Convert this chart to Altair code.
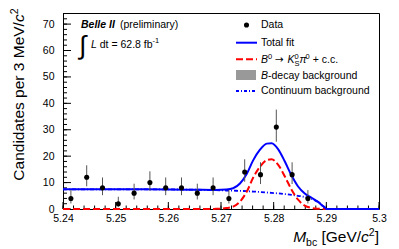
import altair as alt
import pandas as pd

# ---------------- data ----------------
bin_centers = [5.2415, 5.2445, 5.2475, 5.2505, 5.2535, 5.2565, 5.2595, 5.2625,
               5.2655, 5.2685, 5.2715, 5.2745, 5.2775, 5.2805, 5.2835, 5.2865]
counts = [4, 12, 8, 2, 6, 10, 8, 8, 6, 8, 4, 14, 13, 31, 13, 4]
err_low = [2.09, 8.59, 5.23, 0.71, 3.62, 6.89, 5.23, 5.23, 3.62, 5.23, 2.09,
           10.32, 9.45, 25.47, 9.45, 2.09]
err_high = [7.16, 16.55, 11.94, 4.64, 9.58, 14.26, 11.94, 11.94, 9.58, 11.94, 7.16,
            18.82, 17.69, 37.63, 17.69, 7.16]

curve_m = [5.2400, 5.2500, 5.2600, 5.2650, 5.2690, 5.2710, 5.2723, 5.2736, 5.2749,
           5.2761, 5.2774, 5.2787, 5.2796, 5.2809, 5.2821, 5.2834, 5.2846, 5.2859,
           5.2872, 5.2885, 5.2893, 5.2898, 5.2900, 5.3000]
signal_curve = [0, 0, 0, 0, 0.05, 0.35, 0.9, 2.8, 6.6, 11.8, 16.0, 18.5, 18.8, 16.6,
                12.4, 7.3, 3.6, 1.3, 0.4, 0.1, 0, 0, 0, 0]
continuum_curve = [7.45, 7.45, 7.4, 7.3, 7.15, 7.0, 6.95, 6.85, 6.75, 6.6, 6.45, 6.25,
                   6.1, 5.9, 5.65, 5.35, 5.0, 4.55, 3.85, 2.5, 1.2, 0.4, 0, 0]
total_curve = [7.45, 7.45, 7.4, 7.3, 7.2, 7.35, 7.85, 9.65, 13.35, 18.4, 22.45, 24.75,
               24.9, 22.5, 18.05, 12.65, 8.6, 5.85, 4.25, 2.6, 1.2, 0.4, 0, 0]

x_major = [5.24, 5.25, 5.26, 5.27, 5.28, 5.29, 5.30]
x_minor = [round(5.24 + 0.002 * i, 3) for i in range(31)]
y_major = [0, 10, 20, 30, 40, 50, 60, 70]
y_minor = list(range(0, 75, 2))

# ---------------- layout ----------------
W, H = 316, 196
F = "Liberation Sans"
TS = 10.5   # tick label size
LS = 10.5   # legend / annotation size
TT = 15.5   # axis title size

AW = {' ': 278, '(': 333, ')': 333, '-': 333, '.': 278, '/': 278, '=': 584, '+': 584,
      '[': 278, ']': 278, 'a': 556, 'b': 556, 'c': 500, 'd': 556, 'e': 556, 'f': 278,
      'g': 556, 'i': 222, 'k': 500, 'l': 222, 'm': 833, 'n': 556, 'o': 556, 'p': 556,
      'r': 333, 's': 500, 't': 278, 'u': 556, 'y': 500, 'B': 667, 'C': 722, 'D': 722,
      'G': 778, 'I': 278, 'K': 667, 'L': 556, 'M': 833, 'S': 667, 'T': 611, 'V': 667,
      'π': 580, '→': 838}


def tw(s, size):
    return sum(AW.get(ch, 556) for ch in s) * size / 1000


xs = alt.Scale(domain=[5.24, 5.30], nice=False, zero=False)
ys = alt.Scale(domain=[0, 74.2], nice=False, zero=True)
xaxis = alt.Axis(values=x_major, format=".2~f", domain=False, ticks=False, grid=False,
                 labelFont=F, labelFontSize=TS, labelPadding=4, labelColor="black",
                 title=None, labelFlush=False, labelOverlap=False)
yaxis = alt.Axis(values=y_major, format="d", domain=False, ticks=False, grid=False,
                 labelFont=F, labelFontSize=TS, labelPadding=9, labelColor="black",
                 title=None, labelFlush=False, labelOverlap=False)


def X(f):
    return alt.X(f"{f}:Q", scale=xs, axis=xaxis)


def Y(f):
    return alt.Y(f"{f}:Q", scale=ys, axis=yaxis)


df_pts = pd.DataFrame({"m": bin_centers, "v": counts, "lo": err_low, "hi": err_high})
df_cur = pd.DataFrame({"m": curve_m, "sig": signal_curve, "cont": continuum_curve,
                       "tot": total_curve})
one = pd.DataFrame({"a": [0]})

layers = []
# ticks (inside the frame)
layers.append(alt.Chart(pd.DataFrame({"m": x_major})).mark_rule(color="black", strokeWidth=1)
              .encode(x=X("m"), y=alt.value(H), y2=alt.value(H - 7)))
layers.append(alt.Chart(pd.DataFrame({"m": x_minor})).mark_rule(color="black", strokeWidth=1)
              .encode(x=X("m"), y=alt.value(H), y2=alt.value(H - 3.5)))
layers.append(alt.Chart(pd.DataFrame({"v": y_major})).mark_rule(color="black", strokeWidth=1)
              .encode(y=Y("v"), x=alt.value(0), x2=alt.value(8)))
layers.append(alt.Chart(pd.DataFrame({"v": y_minor})).mark_rule(color="black", strokeWidth=1)
              .encode(y=Y("v"), x=alt.value(0), x2=alt.value(4)))

# curves
layers.append(alt.Chart(df_cur).mark_line(color="#0000ff", strokeWidth=1.8, strokeDash=[4, 2, 1, 2],
                                          interpolate="monotone")
              .encode(x=X("m"), y=Y("cont")))
layers.append(alt.Chart(df_cur).mark_line(color="#ff0000", strokeWidth=2, strokeDash=[7, 3],
                                          interpolate="monotone")
              .encode(x=X("m"), y=Y("sig")))
layers.append(alt.Chart(df_cur).mark_line(color="#0000ff", strokeWidth=2, interpolate="monotone")
              .encode(x=X("m"), y=Y("tot")))

# data
layers.append(alt.Chart(df_pts).mark_rule(color="#555555", strokeWidth=1)
              .encode(x=X("m"), y=Y("lo"), y2="hi"))
layers.append(alt.Chart(df_pts).mark_circle(size=26, color="black", opacity=1)
              .encode(x=X("m"), y=Y("v")))


def txt(t, x, y, size=LS, style="normal", weight="normal", align="left",
        baseline="alphabetic", angle=0, font=F):
    return (alt.Chart(pd.DataFrame({"t": [t]}))
            .mark_text(align=align, baseline=baseline, fontSize=size, fontStyle=style,
                       fontWeight=weight, font=font, angle=angle, color="black")
            .encode(x=alt.value(x), y=alt.value(y), text="t:N"))


def seq(x0, base, pieces):
    out = []
    x = x0
    for p in pieces:
        t = p["t"]
        size = p.get("size", LS)
        lead = len(t) - len(t.lstrip(" "))
        x += tw(" " * lead, size)
        body = t.lstrip(" ")
        if body.strip():
            out.append(txt(body, x, base + p.get("dy", 0), size=size,
                           style=p.get("style", "normal"), weight=p.get("weight", "normal"),
                           font=p.get("font", F)))
        if p.get("adv", True):
            x += p.get("w", tw(body, size))
    return out


# annotation top-left
layers.append(txt("Belle II", 18, 14.7, style="italic", weight="bold"))
layers.append(txt("(preliminary)", 57, 14.7))
layers.append(txt("∫", 16, 41, size=26))
layers += seq(28, 34.7, [
    {"t": "L", "style": "italic"},
    {"t": " dt = 62.8 fb"},
    {"t": "-1", "size": 7.5, "dy": -4.5},
])

# legend
lx0, lx1, tx = 173, 194, 198
rows = [12, 29.7, 46.3, 62, 78]
layers.append(alt.Chart(one).mark_circle(size=26, color="black", opacity=1)
              .encode(x=alt.value(183.5), y=alt.value(rows[0])))
layers.append(txt("Data", tx, rows[0], baseline="middle"))
layers.append(alt.Chart(one).mark_rule(color="#0000ff", strokeWidth=2)
              .encode(x=alt.value(lx0), x2=alt.value(lx1), y=alt.value(rows[1])))
layers.append(txt("Total fit", tx, rows[1], baseline="middle"))
layers.append(alt.Chart(one).mark_rule(color="#ff0000", strokeWidth=2, strokeDash=[7, 3])
              .encode(x=alt.value(lx0), x2=alt.value(lx1), y=alt.value(rows[2])))
b2 = rows[2] + 3.7
layers += seq(tx, b2, [
    {"t": "B", "style": "italic"},
    {"t": "0", "size": 7.5, "dy": -4.5},
    {"t": " →", "font": "DejaVu Sans", "w": 9.5},
    {"t": " K", "style": "italic"},
    {"t": "S", "size": 7.5, "dy": 2.5, "adv": False},
    {"t": "0", "size": 7.5, "dy": -4.5, "w": 5},
    {"t": "π", "style": "italic"},
    {"t": "0", "size": 7.5, "dy": -4.5},
    {"t": " + c.c."},
])
layers.append(alt.Chart(one).mark_rect(color="#999999")
              .encode(x=alt.value(lx0), x2=alt.value(lx1 - 1), y=alt.value(rows[3] - 5),
                      y2=alt.value(rows[3] + 5)))
layers += seq(tx, rows[3] + 3.7, [
    {"t": "B", "style": "italic"},
    {"t": "-decay background"},
])
layers.append(alt.Chart(one).mark_rule(color="#0000ff", strokeWidth=1.8, strokeDash=[3, 2, 1, 2])
              .encode(x=alt.value(lx0), x2=alt.value(lx1), y=alt.value(rows[4])))
layers.append(txt("Continuum background", tx, rows[4], baseline="middle"))

# x title (right aligned at the frame end)
xt_pieces = [
    {"t": "M", "style": "italic", "size": TT},
    {"t": "bc", "size": 10.5, "dy": 3.5},
    {"t": " [GeV/", "size": TT},
    {"t": "c", "style": "italic", "size": TT},
    {"t": "2", "size": 10.5, "dy": -6.5},
    {"t": "]", "size": TT},
]
xt_w = sum(tw(p["t"], p["size"]) for p in xt_pieces)
layers += seq(W - xt_w, 229, xt_pieces)

# y title (rotated, right aligned at the top)
yb = -39.5
wc = tw("c", TT)
w2 = tw("2", 10.5)
yend = -4.5
main_end = yend + wc + w2
layers.append(txt("Candidates per 3 MeV/", yb, main_end, size=TT, align="right", angle=270))
layers.append(txt("c", yb, main_end, size=TT, style="italic", align="left", angle=270))
layers.append(txt("2", yb - 6, main_end - wc, size=10.5, align="left", angle=270))

chart = (alt.layer(*layers)
         .properties(width=W, height=H, autosize=alt.AutoSizeParams(type="none"),
                     padding={"left": 55, "top": 5, "right": 12, "bottom": 38},
                     background="white")
         .configure_view(stroke="black", strokeWidth=1))

chart.save("out.html", embed_options={"renderer": "svg", "actions": False})
